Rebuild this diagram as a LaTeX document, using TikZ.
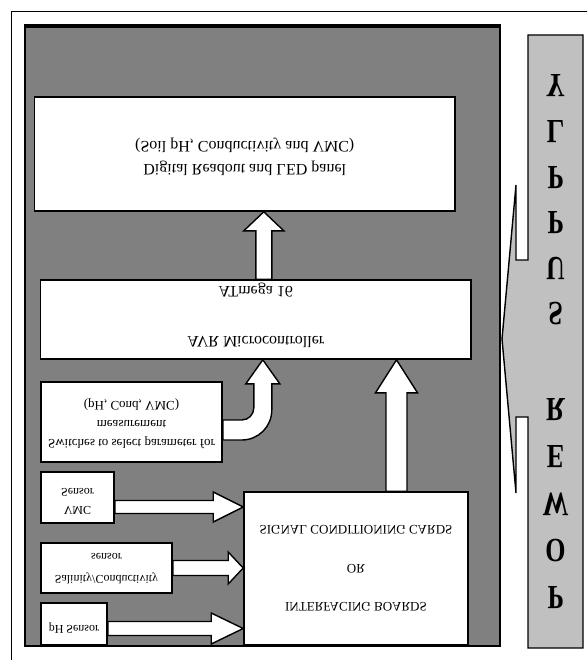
\documentclass[tikz,border=0pt]{standalone}
\usepackage{fontspec}
\setmainfont{Liberation Serif}
\usetikzlibrary{calc}
\definecolor{panelgray}{RGB}{128,128,128}
\definecolor{supplygray}{RGB}{192,192,192}
\tikzset{
  box/.style={draw=black, fill=white, line width=1.6pt, inner sep=0pt},
  lbl/.style={align=center, inner sep=0pt, yscale=-1},
  blk/.style={draw=black, fill=white, line width=1.4pt, line join=miter},
  psletter/.style={font=\fontsize{26}{26}\selectfont\bfseries, yscale=-1.3, inner sep=0pt},
}
% block arrow pointing right: from, to, shaft half width, head half width, head length
\newcommand\blockright[5]{%
  \draw[blk] let \p1=#1, \p2=#2 in
    (\x1,\y1+#3) -- (\x2-#5,\y1+#3) -- (\x2-#5,\y1+#4) -- (\x2,\y1)
    -- (\x2-#5,\y1-#4) -- (\x2-#5,\y1-#3) -- (\x1,\y1-#3) -- cycle;}
% block arrow pointing up: from, to, shaft half width, head half width, head length
\newcommand\blockup[5]{%
  \draw[blk] let \p1=#1, \p2=#2 in
    (\x1-#3,\y1) -- (\x1-#3,\y2-#5) -- (\x1-#4,\y2-#5) -- (\x1,\y2)
    -- (\x1+#4,\y2-#5) -- (\x1+#3,\y2-#5) -- (\x1+#3,\y1) -- cycle;}
\begin{document}
\begin{tikzpicture}[x=1pt,y=-1pt]
\useasboundingbox (0,0) rectangle (587,660);
\clip (0,0) rectangle (587,660);
\fill[white] (0,0) rectangle (587,660);

% outer frame
\draw[line width=1.5pt] (11.5,680) -- (11.5,11.5) -- (620,11.5);

% dark panel, heavier along its top edge
\draw[line width=2.5pt, fill=panelgray] (25,25) rectangle (500,646);
\draw[line width=4pt] (24,26.5) -- (501,26.5);

% boxes
\node[box, minimum width=420.5pt, minimum height=114pt] (disp) at (244.75,154) {};
\node[box, minimum width=430.4pt, minimum height=79pt] (micro) at (255.8,319.5) {};
\node[box, minimum width=181pt, minimum height=80pt] (sw) at (131.5,422) {};
\node[box, minimum width=73pt, minimum height=51pt] (vmc) at (77.5,497.5) {};
\node[box, minimum width=131pt, minimum height=50pt] (sal) at (106.5,568) {};
\node[box, minimum width=66pt, minimum height=42pt] (ph) at (74,624) {};
\node[box, minimum width=224pt, minimum height=153pt] (sig) at (356,568.5) {};

% labels
\node[lbl, font=\fontsize{16}{23}\selectfont] (dispT) at ([yshift=-3pt]disp.center)
  {Digital Readout and LED panel\\(Soil pH, Conductivity and VMC)};
\node[lbl, font=\fontsize{16}{25}\selectfont] (microT) at ([yshift=4pt]micro.center)
  {AVR Microcontroller\\[25pt]ATmega 16};
\node[lbl, font=\fontsize{13}{19}\selectfont] (swT) at ([yshift=-2pt]sw.center)
  {Switches to select parameter for\\measurement\\(pH, Cond, VMC)};
\node[lbl, font=\fontsize{12}{18}\selectfont] (vmcT) at ([yshift=-4pt]vmc.center) {VMC\\Sensor};
\node[lbl, font=\fontsize{12}{22}\selectfont] (salT) at ([yshift=-1pt]sal.center) {Salinity/Conductivity\\sensor};
\node[lbl, font=\fontsize{12}{14}\selectfont] (phT) at ([yshift=-4pt]ph.center) {pH Sensor};
\node[lbl, font=\fontsize{13}{38.5}\selectfont] (sigT) at (sig.center)
  {INTERFACING BOARDS\\OR\\SIGNAL CONDITIONING CARDS};

% straight block arrows
\blockup{([xshift=8pt]micro.north)}{(disp.south)}{8pt}{20pt}{19pt}
\blockup{([xshift=40.5pt]sig.north)}{(micro.south)}{10.5pt}{21pt}{33pt}
\blockright{([yshift=-9.5pt]vmc.east)}{(sig.west)}{6.5pt}{15pt}{30pt}
\blockright{(sal.east)}{(sig.west)}{7.5pt}{16pt}{15pt}
\blockright{([yshift=-4.5pt]ph.east)}{(sig.west)}{7pt}{15.5pt}{32pt}

% bent block arrow from the switches to the microcontroller
\draw[blk] let \p1=([yshift=-8pt]sw.east), \p2=([xshift=7pt]micro.south) in
  (\x1,\y1+10pt) -- (\x2-21pt,\y1+10pt)
  .. controls (\x2-14.4pt,\y1+10pt) and (\x2-9pt,\y1+15.4pt) .. (\x2-9pt,\y1+22pt)
  -- (\x2-9pt,\y2-24pt) -- (\x2-17pt,\y2-24pt) -- (\x2,\y2)
  -- (\x2+17pt,\y2-24pt) -- (\x2+9pt,\y2-24pt) -- (\x2+9pt,\y1+20pt)
  .. controls (\x2+9pt,\y1+3.4pt) and (\x2-4.4pt,\y1-10pt) .. (\x2-21pt,\y1-10pt)
  -- (\x1,\y1-10pt) -- cycle;

% power supply with its callout pointer
\draw[line width=1.4pt, fill=supplygray, line join=miter]
  (528,35) -- (583,35) -- (583,648) -- (528,648) -- (528,417) -- (516,417)
  -- (516,493) -- (502,339) -- (516,185) -- (516,260) -- (528,260) -- cycle;
\foreach \c [count=\i] in {Y,L,P,P,U,S}
  \node[psletter] (sup\i) at (555.5,{86+45.6*(\i-1)}) {\c};
\foreach \c [count=\i] in {R,E,W,O,P}
  \node[psletter] (pow\i) at (555.5,{410+47*(\i-1)}) {\c};
\end{tikzpicture}
\end{document}
